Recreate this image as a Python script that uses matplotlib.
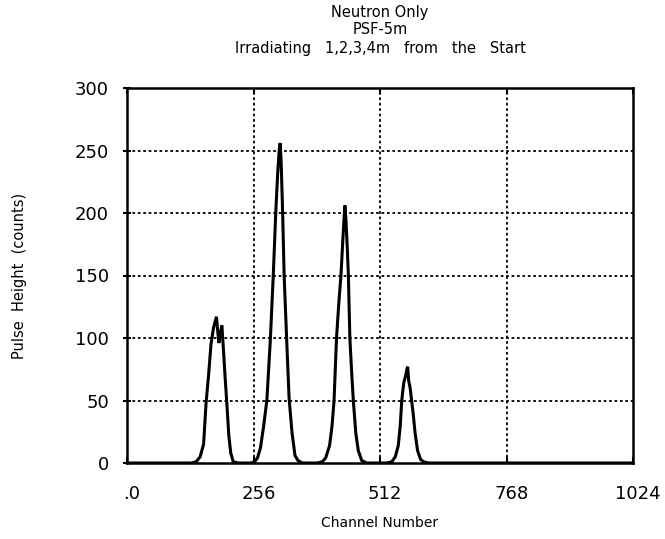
import matplotlib
matplotlib.use("Agg")
import matplotlib.pyplot as plt
from matplotlib.transforms import ScaledTranslation

# ---- data ----
title_lines = ["Neutron Only", "PSF-5m", "Irradiating   1,2,3,4m   from   the   Start"]
x_label = "Channel Number"
y_label = "Pulse  Height  (counts)"
x_ticks = [0, 256, 512, 768, 1024]
x_tick_labels = [".0", "256", "512", "768", "1024"]
y_ticks = [0, 50, 100, 150, 200, 250, 300]
y_tick_labels = ["0", "50", "100", "150", "200", "250", "300"]

peak1_ch = [130, 140, 148, 155, 160, 165, 170, 175, 179, 181, 183, 186, 189, 192, 195, 198, 202, 206, 210, 215, 225]
peak1_ct = [0, 1, 5, 15, 48, 70, 95, 108, 114, 117, 108, 96, 104, 110, 92, 72, 48, 22, 8, 1, 0]

peak2_ch = [250, 258, 264, 270, 276, 283, 290, 296, 301, 305, 308, 310, 312, 315, 318, 323, 328, 334, 340, 346, 355]
peak2_ct = [0, 1, 4, 12, 28, 50, 98, 150, 200, 232, 250, 256, 240, 200, 150, 100, 52, 24, 6, 2, 0]

peak3_ch = [385, 395, 402, 410, 415, 419, 424, 429, 433, 437, 440, 441, 443, 446, 448, 451, 455, 458, 463, 468, 475, 485]
peak3_ct = [0, 1, 4, 14, 30, 50, 100, 130, 150, 180, 200, 206, 195, 170, 150, 100, 70, 50, 24, 10, 2, 0]

peak4_ch = [525, 536, 543, 549, 553, 556, 560, 564, 567, 568, 570, 573, 576, 579, 583, 588, 594, 600, 610]
peak4_ct = [0, 1, 5, 14, 30, 50, 64, 70, 76, 77, 66, 60, 50, 40, 24, 10, 3, 1, 0]

channels = [0] + peak1_ch + peak2_ch + peak3_ch + peak4_ch + [1024]
counts = [0] + peak1_ct + peak2_ct + peak3_ct + peak4_ct + [0]

# ---- figure ----
plt.rcParams['font.family'] = ['DejaVu Sans']
W, H = 665, 539
fig = plt.figure(figsize=(W / 100, H / 100), dpi=100)
ax = fig.add_axes([127 / W, 1 - 463 / H, (633 - 127) / W, (463 - 88) / H])

ax.plot(channels, counts, color='black', lw=2.2, solid_joinstyle='miter')

ax.set_xlim(0, 1024)
ax.set_ylim(0, 300)

for gx in x_ticks[1:-1]:
    ax.axvline(gx, color='black', lw=1.3, linestyle=(0, (1.5, 1.5)), zorder=0)
for gy in y_ticks[1:-1]:
    ax.axhline(gy, color='black', lw=1.3, linestyle=(0, (1.5, 1.5)), zorder=0)

ax.set_xticks(x_ticks)
ax.set_xticklabels(x_tick_labels, fontsize=13)
ax.set_yticks(y_ticks)
ax.set_yticklabels(y_tick_labels, fontsize=13)
ax.tick_params(axis='x', direction='in', length=4, width=1.5, top=True, pad=16)
ax.tick_params(axis='y', direction='inout', length=6, width=1.5, right=False, pad=10)
shift = ScaledTranslation(5 / 100, 0, fig.dpi_scale_trans)
for lab in ax.get_xticklabels():
    lab.set_transform(lab.get_transform() + shift)

for s in ax.spines.values():
    s.set_linewidth(1.8)

ax.set_xlabel(x_label, fontsize=10)
ax.xaxis.set_label_coords(0.5, -(523 - 463) / 375)
ax.set_ylabel(y_label, fontsize=10.5)
ax.yaxis.set_label_coords((20 - 127) / 506, 0.5)
ax.xaxis.label.set_va('center')
ax.yaxis.label.set_va('center')

cx = (127 + 633) / 2 / W
for i, line in enumerate(title_lines):
    fig.text(cx, 1 - (12 + 18 * i) / H, line, ha='center', va='center', fontsize=10.5)

fig.savefig("out.png", dpi=100, facecolor='white')
